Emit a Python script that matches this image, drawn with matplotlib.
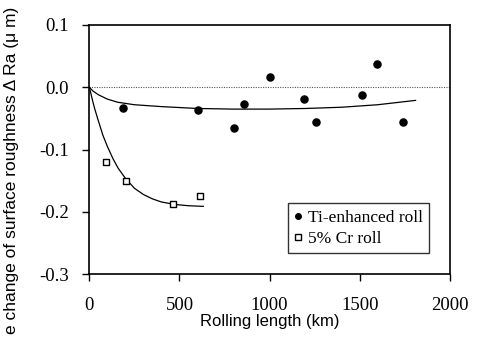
import matplotlib
matplotlib.use("Agg")
import matplotlib.pyplot as plt
from matplotlib.lines import Line2D

# Data
ti_x = [189, 600, 800, 859, 1000, 1189, 1256, 1511, 1596, 1739]
ti_y = [-0.034, -0.037, -0.066, -0.027, 0.017, -0.019, -0.056, -0.012, 0.038, -0.055]
cr_x = [92, 203, 462, 613]
cr_y = [-0.120, -0.151, -0.188, -0.174]

# Trend curves
ti_fit_x = [0, 20, 50, 100, 157, 250, 400, 600, 800, 1000, 1200, 1400, 1600, 1810]
ti_fit_y = [0, -0.006, -0.012, -0.019, -0.024, -0.028, -0.031, -0.034, -0.035,
            -0.035, -0.034, -0.032, -0.028, -0.021]
cr_fit_x = [0, 10, 20, 30, 50, 75, 100, 130, 160, 200, 250, 300, 350, 400, 475, 550, 632]
cr_fit_y = [0, -0.012, -0.024, -0.035, -0.054, -0.077, -0.095, -0.114, -0.130,
            -0.146, -0.162, -0.172, -0.179, -0.184, -0.188, -0.190, -0.191]

x_ticks = [0, 500, 1000, 1500, 2000]
y_ticks = [0.1, 0.0, -0.1, -0.2, -0.3]
y_tick_labels = ["0.1", "0.0", "-0.1", "-0.2", "-0.3"]

serif = ["Liberation Serif", "DejaVu Serif"]
sans = ["Liberation Sans", "DejaVu Sans"]

fig = plt.figure(figsize=(4.78, 3.37), dpi=100)
ax = fig.add_axes([0.187, 0.186, 0.754, 0.740])

ax.axhline(0, color="#555555", lw=0.8, ls=(0, (1, 1.2)), zorder=1)
ax.plot(ti_fit_x, ti_fit_y, color="black", lw=0.9, zorder=2)
ax.plot(cr_fit_x, cr_fit_y, color="black", lw=0.9, zorder=2)
ax.scatter(ti_x, ti_y, s=26, marker="o", color="black", zorder=3)
ax.scatter(cr_x, cr_y, s=22, marker="s", facecolor="white", edgecolor="black",
           linewidth=1.0, zorder=3)

ax.set_xlim(0, 2000)
ax.set_ylim(-0.3, 0.1)
ax.set_xticks(x_ticks)
ax.set_xticklabels([str(v) for v in x_ticks], fontfamily=serif, fontsize=13.5)
ax.set_yticks(y_ticks)
ax.set_yticklabels(y_tick_labels, fontfamily=serif, fontsize=13.5)
ax.tick_params(direction="out", length=5, width=1, pad=10)
ax.tick_params(axis="x", pad=11)
for s in ax.spines.values():
    s.set_linewidth(1.2)

ax.set_xlabel("Rolling length (km)", fontfamily=sans, fontsize=12, labelpad=0)
fig.text(0.025, 0.493, "e change of surface roughness \u0394 Ra (\u03bc m)",
         rotation=90, ha="center", va="center", fontfamily=sans, fontsize=12.5)

handles = [
    Line2D([], [], marker="o", ls="", color="black", markersize=4),
    Line2D([], [], marker="s", ls="", markerfacecolor="white",
           markeredgecolor="black", markersize=4),
]
leg = ax.legend(handles, ["Ti-enhanced roll", "5% Cr roll"], loc="lower right",
                bbox_to_anchor=(0.942, 0.085), prop={"family": serif, "size": 12.5},
                frameon=True, fancybox=False, edgecolor="black", handlelength=0.5,
                handletextpad=0.3, borderpad=0.35, labelspacing=0.3,
                borderaxespad=0)
leg.get_frame().set_linewidth(1.0)

fig.savefig("out.png", dpi=100)
